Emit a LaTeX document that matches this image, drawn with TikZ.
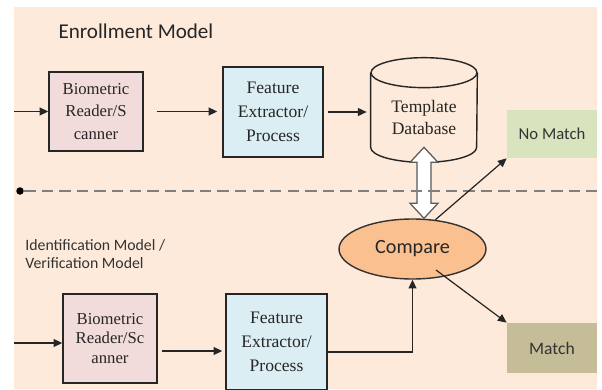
\documentclass[tikz,border=0pt]{standalone}
\usepackage{fontspec}
\setmainfont{Liberation Serif}
\newfontfamily\calfont{Carlito}
\usetikzlibrary{positioning}
\usetikzlibrary{calc}
\usetikzlibrary{shapes.geometric}
\usetikzlibrary{arrows.meta}
\definecolor{peach}{HTML}{FDEADA}
\definecolor{readerpink}{HTML}{F2DCDB}
\definecolor{extractblue}{HTML}{DBEEF4}
\definecolor{nomatchgreen}{HTML}{D7E4BD}
\definecolor{matchtan}{HTML}{C4BD97}
\definecolor{compareorange}{HTML}{FAC090}
\definecolor{dashgray}{HTML}{7F7F7F}
\begin{document}
\begin{tikzpicture}[x=0.02cm,y=-0.02cm,
      arr/.style={-{Triangle[length=5pt,width=4.5pt]},black!85,line width=0.8pt},
      reader/.style={draw=black!85,line width=0.8pt,fill=readerpink,minimum width=1.88cm,align=center,text=black!85},
      extractor/.style={draw=black!85,line width=0.8pt,fill=extractblue,minimum width=2cm,align=center,font=\fontsize{10}{13.5}\selectfont,text=black!85},
      result/.style={minimum width=1.8cm,font=\calfont\fontsize{9.5}{11}\selectfont,text=black!80},
      every node/.append style={inner sep=0pt}]
      %
         \useasboundingbox (0,0) rectangle (602,389);
         \clip (0,0) rectangle (602,389);
         \fill[peach] (14,7) rectangle (597,389);
      % enrollment part
         \node (enroll) at (136,31) [font=\calfont\fontsize{12}{14}\selectfont,text=black!85] {Enrollment Model};
         \coordinate (inA) at (14,111.5);
         \node (readerA) at (96,111.5) [reader,minimum height=1.58cm,font=\fontsize{9.5}{12.7}\selectfont] {Biometric\\Reader/S\\canner};
         \node (extractA) at (273,112) [extractor,minimum height=1.8cm] {Feature\\Extractor/\\Process};
         \node (db) at (424,117.5) [minimum width=2.12cm,minimum height=1.78cm,align=center,font=\fontsize{10}{13}\selectfont,text=black!85] {Template\\Database};
         % cylinder outline round db
         \draw[black!85,line width=0.8pt] (db.north west) -- ([yshift=0.3cm]db.south west)
            arc[start angle=180,end angle=360,x radius=1.06cm,y radius=0.3cm] -- (db.north east);
         \draw[black!85,line width=0.8pt] (db.north) ellipse [x radius=1.06cm,y radius=0.3cm];
         \draw[arr] (inA) -- (readerA.west);
         \draw[arr,shorten <=0.26cm,shorten >=0.1cm] (readerA.east) -- (readerA.east -| extractA.west);
         \draw[arr,shorten <=0.08cm,shorten >=0.08cm] (extractA.east) -- (extractA.east -| db.west);
      %
         \node (cmp) at (412.5,249) [ellipse,draw=black!80,line width=0.8pt,fill=compareorange,minimum width=2.94cm,minimum height=1.2cm,font=\calfont\fontsize{11.5}{13}\selectfont,text=black!85] {Compare};
         \node (nomatch) at (552,134) [result,fill=nomatchgreen,minimum height=0.96cm] {No Match};
         \node (match) at (552,348) [result,fill=matchtan,minimum height=1cm,font=\calfont\fontsize{10}{12}\selectfont] {Match};
         % white double arrow between db and cmp
         \coordinate (dtop) at ([yshift=0.3cm]db.south);
         \coordinate (dbot) at (dtop |- cmp.north);
         \draw[black!65,line width=0.7pt,fill=white] (dtop) -- ++(14,15) -- ++(-7,0) -- ($(dbot)+(7,-15)$) -- ++(7,0)
            -- (dbot) -- ++(-14,-15) -- ++(7,0) -- ($(dtop)+(-7,15)$) -- ++(-7,0) -- cycle;
      %% divider
         \node (dot) at (20,191) [circle,fill=black,minimum size=0.15cm] {};
         \coordinate (dashend) at (597,191);
         \draw[dashgray,line width=1.7pt,dash pattern=on 6.5pt off 3.5pt] (dot) -- (dashend);
         \draw[arr,line width=0.7pt] (cmp.52) -- (nomatch.south west);
         \coordinate (cmpout) at (436,270);
         \draw[arr,line width=0.7pt] (cmpout) -- (match.north west);
      % identification part
         \node (ident) at (25,254) [anchor=west,align=left,font=\calfont\fontsize{9}{10.5}\selectfont,text=black!80] {Identification Model /\\Verification Model};
         \coordinate (inB) at (14,343);
         \node (readerB) at (110,338.5) [reader,minimum height=1.78cm,font=\fontsize{9.5}{11.3}\selectfont] {Biometric\\Reader/Sc\\anner};
         \node (extractB) at (276.5,342) [extractor,minimum width=2.02cm,minimum height=1.92cm] {Feature\\Extractor/\\Process};
         \draw[arr] (inB) -- (inB -| readerB.west);
         \draw[arr,shorten <=0.08cm,shorten >=0.06cm] ([yshift=-0.25cm]readerB.east) -- ([yshift=-0.25cm]readerB.east -| extractB.west);
         \draw[arr] ([yshift=-0.2cm]extractB.east) -| (cmp.south);
   \end{tikzpicture}
\end{document}
